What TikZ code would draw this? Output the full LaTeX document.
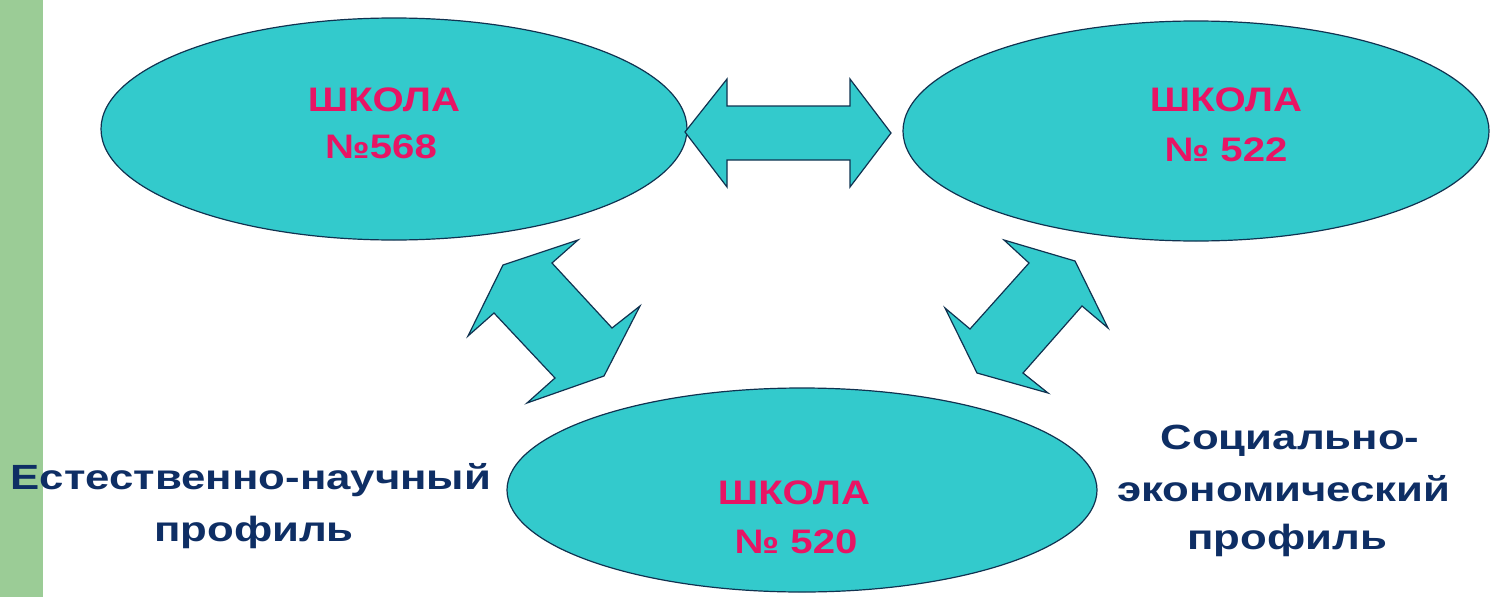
\documentclass[tikz,border=0pt]{standalone}
\usepackage{fontspec}
\usetikzlibrary{shapes.geometric}
\newfontfamily\wide{Liberation Sans}[FakeStretch=1.25]
\newfontfamily\wideb{Liberation Sans}[FakeStretch=1.18]
\definecolor{teal1}{RGB}{51,202,204}
\definecolor{edge1}{RGB}{16,50,80}
\definecolor{strip}{RGB}{155,204,150}
\definecolor{mag}{RGB}{232,20,100}
\definecolor{navy}{RGB}{14,46,100}
\tikzset{
  school/.style={ellipse,draw=edge1,line width=1.2pt,fill=teal1,inner sep=0pt},
  stxt/.style={text=mag,font=\wideb\bfseries\fontsize{34}{40}\selectfont,anchor=base,inner sep=0pt},
  ltxt/.style={text=navy,font=\wide\bfseries\fontsize{35}{40}\selectfont,anchor=base,inner sep=0pt},
  arr/.style={draw=edge1,line width=1.2pt,fill=teal1,line join=miter}
}
\begin{document}
\begin{tikzpicture}[x=1pt,y=-1pt]
\useasboundingbox (0,0) rectangle (1509,597);
\fill[strip] (0,0) rectangle (43,597);
% ellipses
\node[school,minimum width=586pt,minimum height=222pt] (s568) at (394,129) {};
\node[school,minimum width=586pt,minimum height=220pt] (s522) at (1196,131) {};
\node[school,minimum width=590pt,minimum height=204pt] (s520) at (802,490) {};
% arrows
\draw[arr] (685,132) -- (727,79) -- (727,106) -- (850,106) -- (850,79) -- (891,133)
  -- (850,187) -- (850,160) -- (727,160) -- (727,187) -- cycle;
\draw[arr] (503,265) -- (578,240) -- (552,263) -- (612,328) -- (640,306) -- (604,376)
  -- (527,403) -- (555,378) -- (494,313) -- (468,336) -- cycle;
\draw[arr] (1075,261) -- (1108,328) -- (1082,306) -- (1023,373) -- (1048,393) -- (977,373)
  -- (945,308) -- (970,329) -- (1029,263) -- (1004,240) -- cycle;
% school texts
\node[stxt] (t1a) at (384,111) {ШКОЛА};
\node[stxt] (t1b) at (381,158) {№568};
\node[stxt] (t2a) at (1226,111) {ШКОЛА};
\node[stxt] (t2b) at (1226,161) {№ 522};
\node[stxt] (t3a) at (794,504) {ШКОЛА};
\node[stxt] (t3b) at (796,553) {№ 520};
% labels
\node[ltxt] (l1a) at (251,489) {Естественно-научный};
\node[ltxt] (l1b) at (254,541) {профиль};
\node[ltxt] (l2a) at (1290,449) {Социально-};
\node[ltxt] (l2b) at (1284,501) {экономический};
\node[ltxt] (l2c) at (1287,549) {профиль};
\end{tikzpicture}
\end{document}
